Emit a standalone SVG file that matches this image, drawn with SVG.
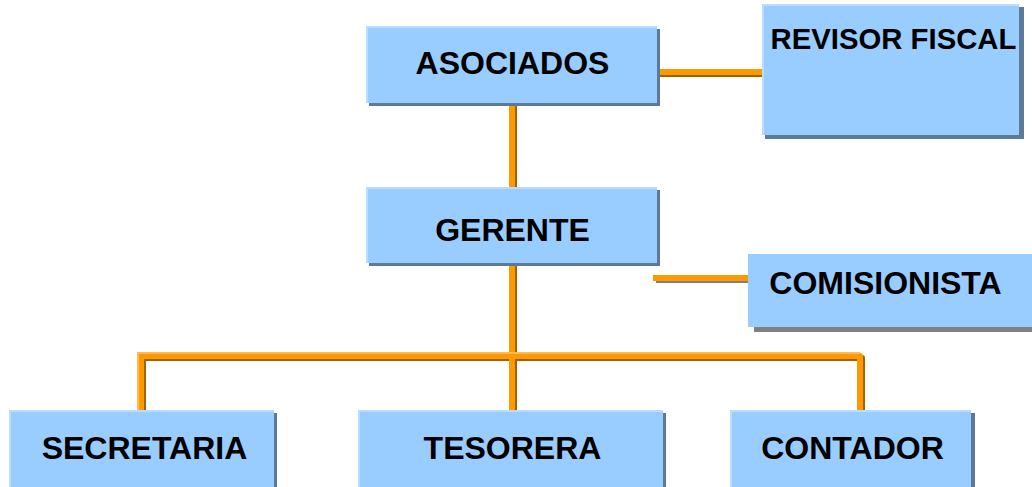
<svg xmlns="http://www.w3.org/2000/svg" width="1032" height="487" viewBox="0 0 1032 487">
<style>
.sh{fill:#5b7a99}
.shg{fill:#808080}
.bx{fill:#99ccff}
.hl{fill:none;stroke:#b9ddff;stroke-width:2}
.t{font-family:"Liberation Sans",Arial,sans-serif;font-weight:bold;font-size:32px;fill:#000;text-anchor:middle}
.ls{fill:none;stroke:#a36200;stroke-width:6;stroke-linejoin:round}
.lg{fill:none;stroke:#7f7f7f;stroke-width:6}
.lm{fill:none;stroke:#ff9900;stroke-width:6;stroke-linejoin:round}
.lh{fill:none;stroke:#ffbb55;stroke-width:2}
</style>
<g id="connectors">
<path class="ls" d="M514,103V190M657,74H762"/>
<path class="lm" d="M512,103V190M657,72H762"/>
<path class="ls" d="M514,263V410M143,410V358H862V410"/>
<path class="lm" d="M512,263V410M141,410V356H860V410"/>
<path class="lh" d="M138,410V353H860"/>
<path class="lg" d="M656,280H748"/>
<path class="lm" d="M653,278H748"/>
</g>
<g id="asociados">
<rect class="sh" x="369" y="29" width="291" height="77"/>
<rect class="bx" x="366" y="26" width="291" height="77"/>
<path class="hl" d="M367,103V27H657"/>
<text class="t" x="512.5" y="74">ASOCIADOS</text>
</g>
<g id="revisor">
<rect class="sh" x="765" y="7" width="259" height="132"/>
<rect class="bx" x="762" y="4" width="257" height="131"/>
<path class="hl" d="M763,135V5H1019"/>
<text class="t" x="893.5" y="49" style="font-size:29.3px">REVISOR FISCAL</text>
</g>
<g id="gerente">
<rect class="sh" x="369" y="190" width="291" height="76"/>
<rect class="bx" x="366" y="187" width="291" height="76"/>
<path class="hl" d="M367,263V188H657"/>
<text class="t" x="512.5" y="241">GERENTE</text>
</g>
<g id="comisionista">
<rect class="shg" x="754" y="260" width="278" height="72"/>
<rect class="bx" x="748" y="254" width="284" height="73"/>
<text class="t" x="885.5" y="294">COMISIONISTA</text>
</g>
<g id="secretaria">
<rect class="sh" x="12" y="413" width="265" height="74"/>
<rect class="bx" x="9" y="410" width="265" height="77"/>
<path class="hl" d="M10,487V411H274"/>
<text class="t" x="144.5" y="459">SECRETARIA</text>
</g>
<g id="tesorera">
<rect class="sh" x="361" y="413" width="305" height="74"/>
<rect class="bx" x="358" y="410" width="305" height="77"/>
<path class="hl" d="M359,487V411H663"/>
<text class="t" x="512.5" y="459">TESORERA</text>
</g>
<g id="contador">
<rect class="sh" x="733" y="413" width="242" height="74"/>
<rect class="bx" x="730" y="410" width="241" height="77"/>
<path class="hl" d="M731,487V411H971"/>
<text class="t" x="852.5" y="459">CONTADOR</text>
</g>
</svg>
